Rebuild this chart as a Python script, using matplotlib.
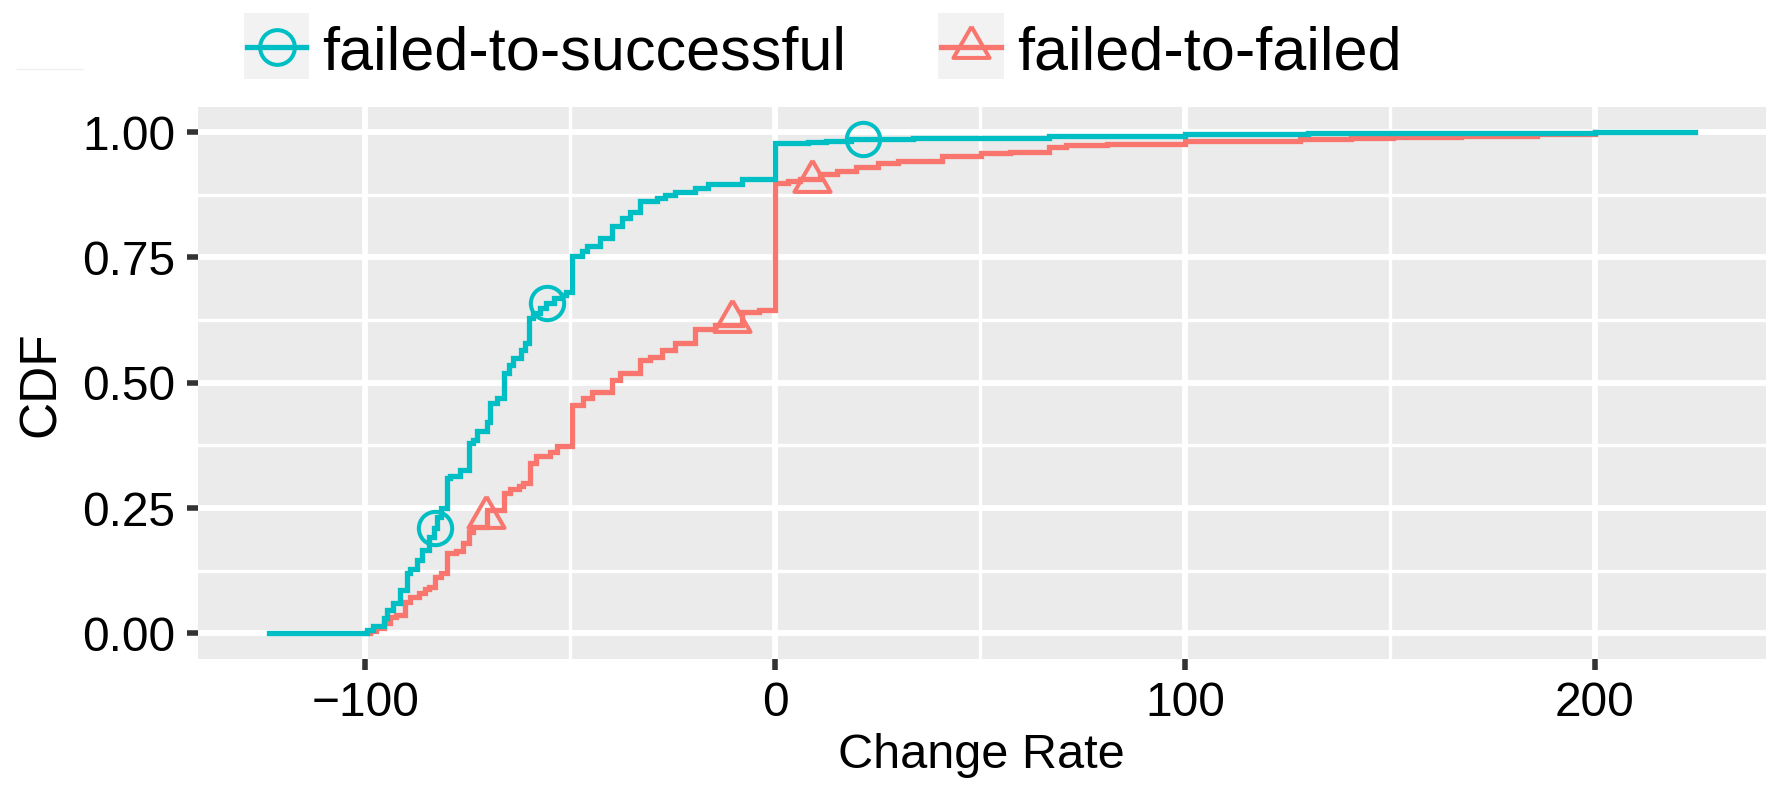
import matplotlib
matplotlib.use("Agg")
import matplotlib.pyplot as plt
from matplotlib.patches import Rectangle
from matplotlib.lines import Line2D

plt.rcParams['font.family'] = ['Liberation Sans', 'DejaVu Sans']

# ---- data (step points of the empirical CDFs) ----
series_names = ["failed-to-successful", "failed-to-failed"]
colors = ["#00BFC4", "#F8766D"]

fts_x = [-123.6, -99.7, -98.1, -95.6, -94.8, -93.2, -91.5, -89.9, -89.1, -87.5,
         -86.3, -84.6, -83.4, -82.6, -81.5, -80.2, -79.4, -77.0, -74.7, -73.8,
         -72.8, -70.4, -69.6, -68.0, -66.3, -65.0, -64.0, -62.0, -61.0, -60.0,
         -59.0, -57.5, -56.0, -54.0, -52.0, -51.0, -49.7, -47.2, -46.0, -42.8,
         -39.9, -37.5, -35.4, -33.0, -28.9, -26.9, -24.4, -19.5, -16.3, -8.2,
         0.0, 7.9, 12.5, 18.5, 33.7, 66.9, 100.0, 130.0, 200.0, 224.4]
fts_y = [0.0, 0.006, 0.015, 0.030, 0.047, 0.060, 0.087, 0.120, 0.128, 0.146,
         0.166, 0.193, 0.210, 0.233, 0.250, 0.310, 0.315, 0.326, 0.379, 0.386,
         0.403, 0.422, 0.459, 0.469, 0.519, 0.535, 0.550, 0.565, 0.580, 0.630,
         0.640, 0.650, 0.660, 0.670, 0.675, 0.682, 0.753, 0.762, 0.772, 0.788,
         0.813, 0.828, 0.840, 0.863, 0.868, 0.875, 0.881, 0.888, 0.897, 0.906,
         0.979, 0.980, 0.982, 0.986, 0.988, 0.992, 0.996, 0.998, 1.0, 1.0]

ftf_x = [-100.0, -99.0, -97.5, -95.6, -94.0, -92.5, -90.3, -89.1, -87.0, -85.5,
         -84.6, -83.0, -81.5, -80.2, -78.0, -76.2, -74.7, -73.8, -70.4, -66.3,
         -64.7, -62.5, -61.5, -59.9, -58.5, -55.0, -53.3, -49.7, -47.0, -44.8,
         -39.9, -37.9, -33.0, -30.5, -27.7, -24.4, -19.5, -14.6, -8.2, -4.0,
         0.0, 3.0, 6.0, 11.0, 15.0, 19.8, 25.0, 30.0, 40.7, 50.3,
         57.3, 66.9, 71.0, 81.0, 100.0, 128.0, 140.6, 150.7, 167.4, 186.0, 200.0]
ftf_y = [0.0, 0.005, 0.010, 0.020, 0.033, 0.036, 0.063, 0.073, 0.080, 0.088,
         0.093, 0.113, 0.120, 0.160, 0.165, 0.180, 0.203, 0.213, 0.246, 0.280,
         0.288, 0.295, 0.300, 0.339, 0.353, 0.362, 0.373, 0.456, 0.469, 0.482,
         0.506, 0.519, 0.546, 0.552, 0.566, 0.579, 0.607, 0.615, 0.642, 0.646,
         0.899, 0.902, 0.906, 0.916, 0.922, 0.931, 0.9375, 0.943, 0.952, 0.959,
         0.961, 0.971, 0.974, 0.976, 0.982, 0.986, 0.989, 0.991, 0.993, 0.996, 1.0]

# marker positions (shape points drawn along each curve)
fts_mx = [-83.0, -55.8, 21.5]
fts_my = [0.210, 0.660, 0.987]
ftf_mx = [-70.6, -10.6, 8.9]
ftf_my = [0.233, 0.624, 0.903]

x_ticks = [-100, 0, 100, 200]
x_minor = [-50, 50, 150]
y_ticks = [0.00, 0.25, 0.50, 0.75, 1.00]
y_ticklabels = ["0.00", "0.25", "0.50", "0.75", "1.00"]
y_minor = [0.125, 0.375, 0.625, 0.875]

# ---- figure ----
W, H = 1780, 792
fig = plt.figure(figsize=(W / 100, H / 100), dpi=100)
L, R, T, B = 197.5, 1766, 107, 658.5
ax = fig.add_axes([L / W, 1 - B / H, (R - L) / W, (B - T) / H])
ax.set_facecolor("#EBEBEB")
for s in ax.spines.values():
    s.set_visible(False)

ax.set_xticks(x_ticks)
ax.set_xticks(x_minor, minor=True)
ax.set_yticks(y_ticks)
ax.set_yticklabels(y_ticklabels)
ax.set_yticks(y_minor, minor=True)
ax.set_xlim(-141.0, 241.8)
ax.set_ylim(-0.05, 1.05)
ax.grid(which="major", color="white", lw=4.2)
ax.grid(which="minor", color="white", lw=2.4)
ax.set_axisbelow(True)
ax.tick_params(which="major", length=8, width=4, color="#333333",
               labelsize=34.5, labelcolor="black", pad=8)
ax.tick_params(which="minor", length=0)

tri = [(0, 1.555), (1.347, -0.778), (-1.347, -0.778), (0, 1.555)]
lw = 3.8
ax.step(ftf_x, ftf_y, where="post", color=colors[1], lw=lw, solid_joinstyle="miter")
ax.step(fts_x, fts_y, where="post", color=colors[0], lw=lw, solid_joinstyle="miter")
ax.plot(ftf_mx, ftf_my, ls="none", marker=tri, ms=30, mfc="none",
        mec=colors[1], mew=2.9)
ax.plot(fts_mx, fts_my, ls="none", marker="o", ms=24, mfc="none",
        mec=colors[0], mew=2.9)

ax.set_xlabel("Change Rate", fontsize=35, va="center")
ax.xaxis.set_label_coords(0.5, (B - 755) / (B - T))
ax.set_ylabel("CDF", fontsize=37, va="center")
ax.yaxis.set_label_coords((41 - L) / (R - L), (B - 384) / (B - T))

# ---- legend (drawn in figure pixel coordinates) ----
def fx(px):
    return px / W

def fy(py):
    return 1 - py / H

fig.add_artist(Line2D([fx(17), fx(83)], [fy(69), fy(69)], color="#F0F0F0", lw=1))

keys = [(244, 309, series_names[0], colors[0], "o", 25),
        (938, 1004, series_names[1], colors[1], tri, 30)]
for x0, x1, name, col, mk, ms in keys:
    fig.add_artist(Rectangle((fx(x0), fy(79)), fx(x1) - fx(x0), fy(13) - fy(79),
                             transform=fig.transFigure, facecolor="#F2F2F2",
                             edgecolor="none"))
    fig.add_artist(Line2D([fx(x0 + 3), fx(x1 - 3)], [fy(46.5), fy(46.5)],
                          color=col, lw=lw))
    fig.add_artist(Line2D([fx((x0 + x1) / 2)], [fy(46.5)], ls="none", marker=mk,
                          ms=ms, mfc="none", mec=col, mew=2.9))
    fig.text(fx(x1 + 13), fy(69), name, fontsize=44, va="baseline", ha="left",
             color="black")

fig.savefig("out.png", dpi=100, facecolor="white")
